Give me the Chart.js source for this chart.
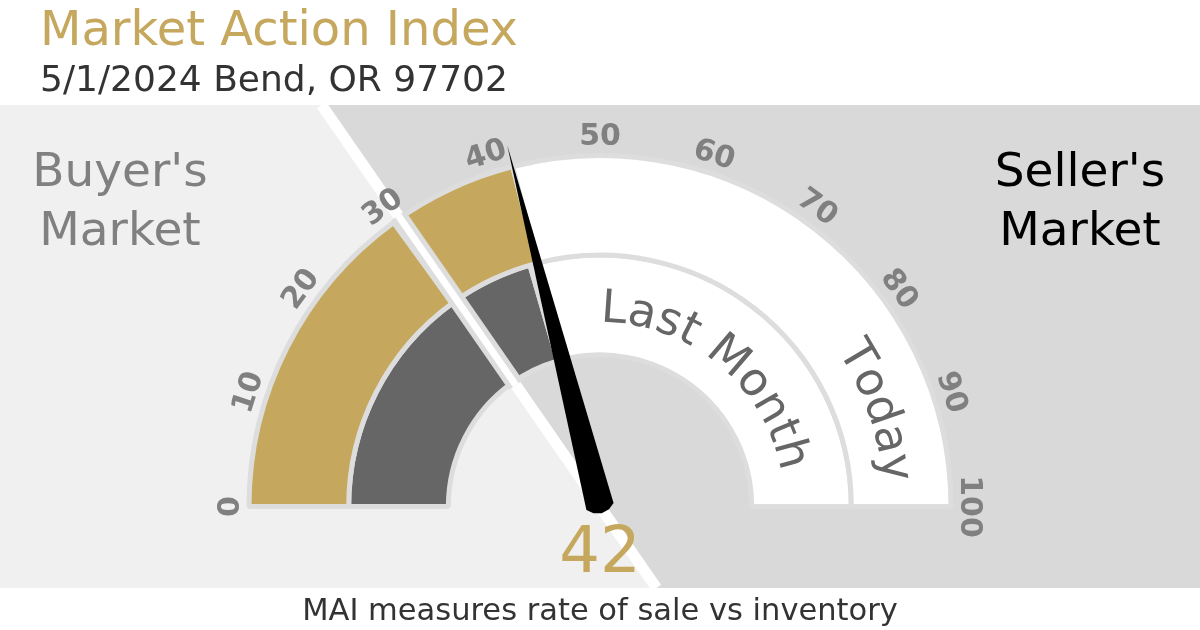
<!DOCTYPE html>
<html>
<head>
<meta charset="utf-8">
<script src="https://cdn.jsdelivr.net/npm/chart.js@4/dist/chart.umd.min.js"></script>
<style>
  body { margin: 0; background: #fff; }
  canvas { display: block; }
</style>
</head>
<body>
<canvas id="gauge" width="1200" height="630"></canvas>
<script>

/* DATA */

const gaugeMin = 0;
const gaugeMax = 100;
const tickValues = [0, 10, 20, 30, 40, 50, 60, 70, 80, 90, 100];
const splitValue = 30;
const ringNames = ["Today", "Last Month"];
const ringValues = [42, 41];
const buyerLines = ["Buyer's", "Market"];
const sellerLines = ["Seller's", "Market"];

const titleText = "Market Action Index";
const subtitleText = "5/1/2024 Bend, OR 97702";
const footerText = "MAI measures rate of sale vs inventory";


/* STYLE */

const GOLD = "#c5a85e";
const DARK = "#666666";
const FONT = "'DejaVu Sans', sans-serif";


function ringData(v) {
  return [splitValue - gaugeMin, v - splitValue, gaugeMax - v];
}


/* HELPERS */

function angleOf(chart, v) {
  const arcs = chart.getDatasetMeta(0).data;
  const a0 = arcs[0].startAngle;
  const a1 = arcs[arcs.length - 1].endAngle;
  return a0 + (v - gaugeMin) / (gaugeMax - gaugeMin) * (a1 - a0);
}

function arcText(ctx, text, cx, cy, r, centerAngle) {
  const w = ctx.measureText(text).width;
  let a = centerAngle - w / r / 2;
  for (const ch of text) {
    const cw = ctx.measureText(ch).width;
    const ac = a + cw / 2 / r;
    ctx.save();
    ctx.translate(cx + r * Math.cos(ac), cy + r * Math.sin(ac));
    ctx.rotate(ac + Math.PI / 2);
    ctx.fillText(ch, 0, 0);
    ctx.restore();
    a += cw / r;
  }
}


/* BACKGROUND + DECORATION PLUGIN */

// the separator sits just past the split value, on the gap between the two ring pieces
const SPLIT_NUDGE = 0.7;

const gaugeDecor = {

  id: "gaugeDecor",

  beforeDraw(chart) {

    const ctx = chart.ctx;
    const arc = chart.getDatasetMeta(0).data[0];
    const cx = arc.x, cy = arc.y;
    const a = angleOf(chart, splitValue + SPLIT_NUDGE);
    const k = Math.cos(a) / Math.sin(a);
    const top = 105, bot = 588;
    const xTop = cx + (top - cy) * k;
    const xBot = cx + (bot - cy) * k;

    ctx.save();
    ctx.fillStyle = "#ffffff";
    ctx.fillRect(0, 0, chart.width, chart.height);

    ctx.fillStyle = "#f0f0f0";
    ctx.beginPath();
    ctx.moveTo(0, top);
    ctx.lineTo(xTop, top);
    ctx.lineTo(xBot, bot);
    ctx.lineTo(0, bot);
    ctx.closePath();
    ctx.fill();

    ctx.fillStyle = "#d9d9d9";
    ctx.beginPath();
    ctx.moveTo(xTop, top);
    ctx.lineTo(chart.width, top);
    ctx.lineTo(chart.width, bot);
    ctx.lineTo(xBot, bot);
    ctx.closePath();
    ctx.fill();

    ctx.strokeStyle = "#ffffff";
    ctx.lineWidth = 11;
    ctx.beginPath();
    ctx.moveTo(xTop, top);
    ctx.lineTo(xBot, bot);
    ctx.stroke();
    ctx.restore();

  },

  afterDatasetsDraw(chart) {

    const ctx = chart.ctx;
    const outer = chart.getDatasetMeta(0).data[0];
    const inner = chart.getDatasetMeta(1).data[0];
    const cx = outer.x, cy = outer.y;
    const R = outer.outerRadius;
    const rIn = inner.innerRadius;

    ctx.save();

    // gap in the rings at the buyer / seller split
    const as = angleOf(chart, splitValue + SPLIT_NUDGE);
    const dx = Math.cos(as), dy = Math.sin(as);
    ctx.lineCap = "butt";
    ctx.strokeStyle = "#dddddd";
    ctx.lineWidth = 17;
    ctx.beginPath();
    ctx.moveTo(cx + dx * (rIn - 4), cy + dy * (rIn - 4));
    ctx.lineTo(cx + dx * (R + 3), cy + dy * (R + 3));
    ctx.stroke();
    ctx.strokeStyle = "#ffffff";
    ctx.lineWidth = 7;
    ctx.beginPath();
    ctx.moveTo(cx + dx * (rIn - 4), cy + dy * (rIn - 4));
    ctx.lineTo(cx + dx * (R + 3), cy + dy * (R + 3));
    ctx.stroke();

    // tick labels
    ctx.fillStyle = "#808080";
    ctx.font = "bold 30px " + FONT;
    ctx.textAlign = "center";
    ctx.textBaseline = "middle";
    tickValues.forEach(t => {
      const a = angleOf(chart, t);
      ctx.save();
      ctx.translate(cx + (R + 18) * Math.cos(a), cy + (R + 18) * Math.sin(a));
      ctx.rotate(a + Math.PI / 2);
      ctx.fillText(String(t), 0, 0);
      ctx.restore();
    });

    // ring names along the arcs
    ctx.fillStyle = "#666666";
    ctx.font = "46px " + FONT;
    ctx.textBaseline = "alphabetic";
    const todayR = (outer.innerRadius + outer.outerRadius) / 2 - 17;
    const lastR = (inner.innerRadius + inner.outerRadius) / 2 - 17;
    arcText(ctx, ringNames[0], cx, cy, todayR, angleOf(chart, 89));
    arcText(ctx, ringNames[1], cx, cy, lastR, angleOf(chart, 72));

    // needle
    const an = angleOf(chart, ringValues[0]);
    const ux = Math.cos(an), uy = Math.sin(an);
    const vx = -uy, vy = ux;
    const needle = [[R + 22, 0], [0, 14], [-5, 8], [-7, 0], [-5, -8], [0, -14]];
    ctx.fillStyle = "#000000";
    ctx.beginPath();
    needle.forEach(([u, v], i) => {
      const px = cx + ux * u + vx * v;
      const py = cy + uy * u + vy * v;
      if (i === 0) ctx.moveTo(px, py); else ctx.lineTo(px, py);
    });
    ctx.closePath();
    ctx.fill();

    // value
    ctx.fillStyle = GOLD;
    ctx.font = "64px " + FONT;
    ctx.textAlign = "center";
    ctx.fillText(String(ringValues[0]), cx, 572);

    // side labels
    ctx.font = "47px " + FONT;
    ctx.fillStyle = "#808080";
    buyerLines.forEach((s, i) => ctx.fillText(s, 120, 186 + i * 59));
    ctx.fillStyle = "#000000";
    sellerLines.forEach((s, i) => ctx.fillText(s, 1080, 186 + i * 59));

    // titles
    ctx.textAlign = "left";
    ctx.fillStyle = GOLD;
    ctx.font = "48px " + FONT;
    ctx.fillText(titleText, 40, 45);
    ctx.fillStyle = "#333333";
    ctx.font = "36px " + FONT;
    ctx.fillText(subtitleText, 40, 91);

    ctx.textAlign = "center";
    ctx.font = "30.5px " + FONT;
    ctx.fillText(footerText, 600, 620);

    ctx.restore();

  }

};


/* CHART */

new Chart(document.getElementById("gauge"), {

  type: "doughnut",

  data: {
    labels: ["Buyer's", "Current", "Rest"],
    datasets: [
      {
        label: ringNames[0],
        data: ringData(ringValues[0]),
        backgroundColor: [GOLD, GOLD, "#ffffff"]
      },
      {
        label: ringNames[1],
        data: ringData(ringValues[1]),
        backgroundColor: [DARK, DARK, "#ffffff"]
      }
    ]
  },

  options: {
    responsive: false,
    animation: false,
    rotation: -90,
    circumference: 180,
    cutout: "43.2%",
    borderColor: "#dddddd",
    borderWidth: 5,
    layout: {
      padding: { left: 245, right: 245, top: 153, bottom: 121 }
    },
    events: [],
    plugins: {
      legend: { display: false },
      tooltip: { enabled: false }
    }
  },

  plugins: [gaugeDecor]

});

</script>
</body>
</html>
